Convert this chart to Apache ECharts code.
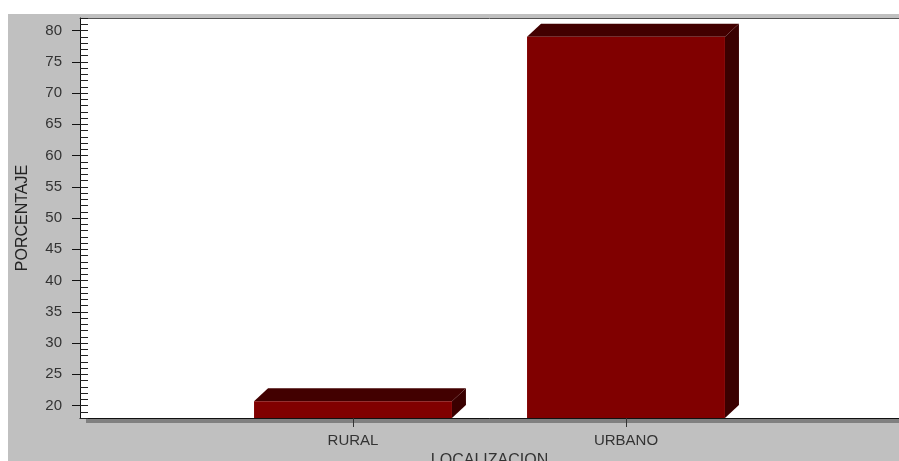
<!DOCTYPE html>
<html>
<head>
<meta charset="utf-8">
<script src="https://cdn.jsdelivr.net/npm/echarts@6/dist/echarts.min.js"></script>
<style>
html,body{margin:0;padding:0;background:#fff;}
#c{width:899px;height:461px;}
</style>
</head>
<body>
<div id="c"></div>
<script>
var categories = ['', 'RURAL', 'URBANO', ''];
var barCategories = ['RURAL', 'URBANO'];
var porcentaje = [20.7, 79.0];
var yTickLabels = [20, 25, 30, 35, 40, 45, 50, 55, 60, 65, 70, 75, 80];
var yMin = 18, yMax = 82;

var chart = echarts.init(document.getElementById('c'), null, {renderer: 'canvas'});

var seriesData = barCategories.map(function (c, i) { return [categories.indexOf(c), porcentaje[i]]; });

var DX = 14, DY = 13;

function renderItem(params, api) {
  var x = api.value(0), v = api.value(1);
  var top = api.coord([x, v]);
  var base = api.coord([x, yMin]);
  var w = api.size([1, 0])[0] * 0.725;
  var l = top[0] - w / 2, r = top[0] + w / 2;
  var t = top[1], b = base[1];
  return {
    type: 'group',
    children: [
      {type: 'polygon', shape: {points: [[r, t], [r + DX, t - DY], [r + DX, b - DY], [r, b]]}, style: {fill: '#3a0000'}},
      {type: 'polygon', shape: {points: [[l, t], [l + DX, t - DY], [r + DX, t - DY], [r, t]]}, style: {fill: '#420000'}},
      {type: 'rect', shape: {x: l, y: t, width: w, height: b - t}, style: {fill: '#800000'}}
    ]
  };
}

var font = 'Arial, "Liberation Sans", sans-serif';

chart.setOption({
  animation: false,
  backgroundColor: '#ffffff',
  graphic: [
    {type: 'rect', z: -10, shape: {x: 8, y: 14, width: 900, height: 460}, style: {fill: '#c0c0c0'}},
    {type: 'rect', z: -5, shape: {x: 86, y: 418, width: 820, height: 5}, style: {fill: '#808080'}}
  ],
  grid: {left: 80, top: 18, right: 0, bottom: 43, show: true, backgroundColor: '#ffffff', borderWidth: 0,
    containLabel: false, outerBoundsMode: 'none'},
  xAxis: [{
    type: 'category',
    data: categories,
    boundaryGap: false,
    position: 'bottom',
    axisLine: {lineStyle: {color: '#111', width: 1}},
    axisTick: {show: true, length: 9, alignWithLabel: true, lineStyle: {color: '#333'},
      interval: function (i, v) { return v !== ''; }},
    axisLabel: {color: '#333', fontSize: 15, fontFamily: font, margin: 15,
      interval: function (i, v) { return v !== ''; }},
    splitLine: {show: false},
    name: 'LOCALIZACION',
    nameLocation: 'middle',
    nameGap: 34,
    nameTextStyle: {color: '#333', fontSize: 16, fontFamily: font, verticalAlign: 'top'}
  }, {
    type: 'category',
    data: categories,
    boundaryGap: false,
    position: 'top',
    axisLine: {lineStyle: {color: '#555', width: 1}},
    axisTick: {show: false},
    axisLabel: {show: false},
    splitLine: {show: false}
  }],
  yAxis: [{
    type: 'value',
    min: yMin,
    max: yMax,
    position: 'left',
    axisLine: {show: true, lineStyle: {color: '#111', width: 1}},
    axisTick: {show: true, inside: false, length: 8, customValues: yTickLabels, lineStyle: {color: '#111'}},
    axisLabel: {color: '#333', fontSize: 15, fontFamily: font, margin: 18, customValues: yTickLabels},
    splitLine: {show: false},
    name: 'PORCENTAJE',
    nameLocation: 'middle',
    nameGap: 49,
    nameRotate: 90,
    nameTextStyle: {color: '#222', fontSize: 16, fontFamily: font}
  }, {
    type: 'value',
    min: yMin,
    max: yMax,
    interval: 1,
    position: 'left',
    axisLine: {show: false},
    axisTick: {show: true, inside: true, length: 8, lineStyle: {color: '#222'}},
    axisLabel: {show: false},
    splitLine: {show: false}
  }],
  series: [{
    type: 'custom',
    xAxisIndex: 0,
    yAxisIndex: 0,
    renderItem: renderItem,
    data: seriesData,
    clip: false
  }]
});
</script>
</body>
</html>
